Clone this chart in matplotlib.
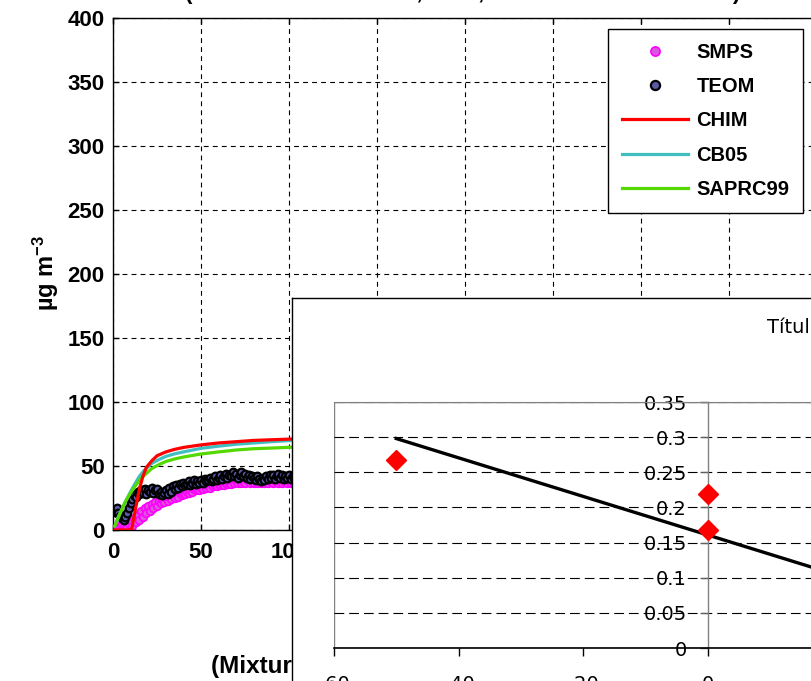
import matplotlib
matplotlib.use("Agg")
import matplotlib.pyplot as plt
from matplotlib.patches import Rectangle
import numpy as np

plt.rcParams['axes.unicode_minus'] = False
plt.rcParams['lines.scale_dashes'] = False
plt.rcParams['mathtext.fontset'] = 'custom'
plt.rcParams['mathtext.bf'] = 'Liberation Sans:bold'
plt.rcParams['mathtext.rm'] = 'Liberation Sans:bold'
plt.rcParams['mathtext.default'] = 'bf'

# ---------------- main chart data ----------------
time_min = list(range(0, 106))
teom = [16, 14, 17, 13, 11, 9, 8, 10, 13, 17,
        21, 24, 27, 26, 30, 28, 31, 29, 32, 28,
        31, 30, 33, 29, 31, 32, 28, 30, 27, 29,
        31, 28, 33, 30, 34, 32, 35, 33, 36, 34,
        37, 35, 36, 38, 35, 37, 39, 36, 38, 37,
        39, 37, 40, 38, 39, 41, 38, 40, 42, 39,
        41, 43, 40, 42, 44, 41, 43, 42, 45, 42,
        44, 41, 43, 45, 42, 44, 41, 43, 40, 42,
        41, 39, 42, 40, 38, 41, 39, 42, 40, 43,
        41, 43, 40, 42, 44, 41, 43, 40, 42, 41,
        43, 40, 42, 41, 43, 42]
smps = [1, 2, 1, 3, 2, 3, 2, 4, 3, 5,
        7, 3, 9, 6, 12, 8, 15, 10, 17, 13,
        19, 15, 20, 17, 22, 19, 23, 21, 24, 22,
        25, 23, 26, 24, 27, 25, 28, 26, 29, 27,
        29, 28, 30, 29, 31, 30, 32, 31, 32, 31,
        33, 32, 34, 33, 34, 33, 35, 34, 35, 34,
        36, 35, 36, 35, 37, 36, 37, 36, 38, 37,
        38, 37, 38, 37, 38, 37, 39, 38, 37, 38,
        37, 38, 37, 38, 37, 38, 37, 38, 37, 38,
        38, 37, 38, 38, 37, 38, 37, 38, 38, 37,
        38, 37, 38, 37, 38, 37]

chim_t = [0, 10.5, 13, 15, 17, 19, 22, 25, 30, 35, 40, 50, 60, 70, 80, 90, 100, 110]
chim_v = [0, 0, 18, 32, 42, 49, 54, 58, 61, 63, 64.5, 66.5, 68, 69, 70, 70.5, 71, 71.5]
cb05_t = [1, 3, 5, 7, 10, 12, 15, 18, 22, 26, 30, 35, 40, 50, 60, 70, 80, 90, 100, 110]
cb05_v = [3, 10, 16, 22, 30, 35, 42, 47, 52, 55, 57.5, 59.5, 61, 63.8, 65.5, 67, 68, 69, 69.8, 70.5]
saprc_t = [1, 3, 5, 7, 10, 12, 15, 18, 22, 26, 30, 35, 40, 50, 60, 70, 80, 90, 100, 110]
saprc_v = [3, 10, 16, 22, 29, 33, 39, 43, 48, 51, 53.5, 55.5, 57, 59.4, 61, 62.5, 63.5, 64, 64.6, 65]

x_ticks = [0, 50, 100, 150, 200, 250, 300, 350, 400]
y_ticks = [0, 50, 100, 150, 200, 250, 300, 350, 400]

# ---------------- inset (Excel) data ----------------
pts_x = [-50, 0, 0]
pts_y = [0.267, 0.219, 0.168]
trend_x = [-50, 40]
trend_y = [0.298, 0.051]
inset_xticks = [-60, -40, -20, 0, 20, 40]
inset_yticks = [0, 0.05, 0.1, 0.15, 0.2, 0.25, 0.3, 0.35]
inset_ylabels = ['0', '0.05', '0.1', '0.15', '0.2', '0.25', '0.3', '0.35']

W, H = 812, 681
fig = plt.figure(figsize=(W / 100, H / 100), dpi=100)

def fx(px):
    return px / W

def fy(py):
    return 1 - py / H

# main axes
ax = fig.add_axes([fx(113), fy(530), fx(817) - fx(113), fy(18) - fy(530)])
ax.plot(time_min, smps, linestyle='none', marker='o', ms=5.5, mfc='#dd55dd', mec='#ff00ff',
        mew=1.2, label='SMPS', zorder=2)
ax.plot(time_min, teom, linestyle='none', marker='o', ms=5.5, mfc='#5a5aa8', mec='black',
        mew=1.6, label='TEOM', zorder=2.5)
ax.plot(chim_t, chim_v, color='#ff0000', lw=2.3, label='CHIM', zorder=4)
ax.plot(cb05_t, cb05_v, color='#3fbfbf', lw=2.3, label='CB05', zorder=3)
ax.plot(saprc_t, saprc_v, color='#55d800', lw=2.3, label='SAPRC99', zorder=3.1)

ax.set_xlim(0, 400)
ax.set_ylim(0, 400)
ax.set_xticks(x_ticks)
ax.set_yticks(y_ticks)
ax.grid(True, color='black', linestyle=(0, (3.5, 3)), linewidth=0.8)
ax.tick_params(direction='in', length=4, width=1, top=True, right=True,
               labelsize=16, pad=6)
ax.tick_params(axis='x', pad=9)
for lab in ax.get_xticklabels() + ax.get_yticklabels():
    lab.set_fontfamily('Liberation Sans')
    lab.set_fontweight('bold')
for sp in ax.spines.values():
    sp.set_linewidth(1.0)
    sp.set_color('black')

h, l = ax.get_legend_handles_labels()
leg = ax.legend(h, l, loc='upper right', bbox_to_anchor=(fx(803), fy(29)),
                bbox_transform=fig.transFigure, borderaxespad=0, frameon=True,
                fancybox=False, framealpha=1, edgecolor='black', numpoints=1,
                handlelength=3.3, handletextpad=0.4, labelspacing=0.76, borderpad=0.68,
                markerscale=1.2,
                prop={'family': 'Liberation Sans', 'weight': 'bold', 'size': 14.5})
leg.get_frame().set_linewidth(1.0)

# y label
ax.text(fx(46), fy(273), 'µg m$^{-3}$', transform=fig.transFigure, rotation=90,
        ha='center', va='center', fontsize=17, fontweight='bold',
        fontfamily='Liberation Sans', clip_on=False)
# x label (mostly hidden by inset)
ax.text(fx(211), fy(673), '(Mixture experiment, elapsed time in minutes)',
        transform=fig.transFigure, ha='left', va='baseline', fontsize=17.5,
        fontweight='bold', fontfamily='Liberation Sans', clip_on=False)
# title (cut at top)
ax.text(fx(463), fy(-1), '(Toluene + NOx + SO2, 2009, Chamber mixture run 1)',
        transform=fig.transFigure, ha='center', va='baseline', fontsize=16,
        fontweight='bold', fontfamily='Liberation Sans', clip_on=False)

# inset frame (pasted Excel chart)
frame = fig.add_axes([fx(292), -0.1, 0.7, fy(298) + 0.1])
frame.set_zorder(5)
frame.set_facecolor('white')
frame.set_xticks([])
frame.set_yticks([])
for sp in frame.spines.values():
    sp.set_color('black')
    sp.set_linewidth(1.0)
frame.text(fx(767), fy(333), 'Título del gráfico', transform=fig.transFigure,
           ha='left', va='baseline', fontsize=14, fontfamily='DejaVu Sans', clip_on=False)

# inset plot area
ax2 = fig.add_axes([fx(334), fy(648), fx(957) - fx(334), fy(402) - fy(648)])
ax2.set_zorder(6)
ax2.set_facecolor('white')
ax2.set_xlim(-60, 40)
ax2.set_ylim(0, 0.35)
ax2.set_xticks(inset_xticks)
ax2.set_yticks(inset_yticks)
ax2.set_yticklabels(inset_ylabels)
ax2.spines['left'].set_position(('data', 0))
ax2.spines['left'].set_color('#808080')
ax2.spines['left'].set_linewidth(1.0)
ax2.spines['top'].set_color('#808080')
ax2.spines['right'].set_color('#808080')
ax2.spines['bottom'].set_color('black')
ax2.spines['bottom'].set_linewidth(1.2)
ax2.add_patch(Rectangle((0, 0), 1, 1, transform=ax2.transAxes, fill=False,
                        ec='#808080', lw=1.0, zorder=0.5))
ax2.yaxis.grid(True, color='black', linestyle=(0, (7, 3.6)), linewidth=0.8)
ax2.set_axisbelow(True)
ax2.tick_params(axis='y', direction='out', length=6, width=1, color='#606060',
                pad=9, labelsize=14)
ax2.tick_params(axis='x', direction='out', length=6, width=1, color='black',
                pad=13.5, labelsize=14)
for lab in ax2.get_xticklabels() + ax2.get_yticklabels():
    lab.set_fontfamily('DejaVu Sans')
ax2.plot(trend_x, trend_y, color='black', lw=2.4, zorder=3)
ax2.plot(pts_x, pts_y, linestyle='none', marker='D', ms=10, mfc='#ff0000',
         mec='#ff0000', zorder=4)

fig.savefig('out.png', dpi=100)
